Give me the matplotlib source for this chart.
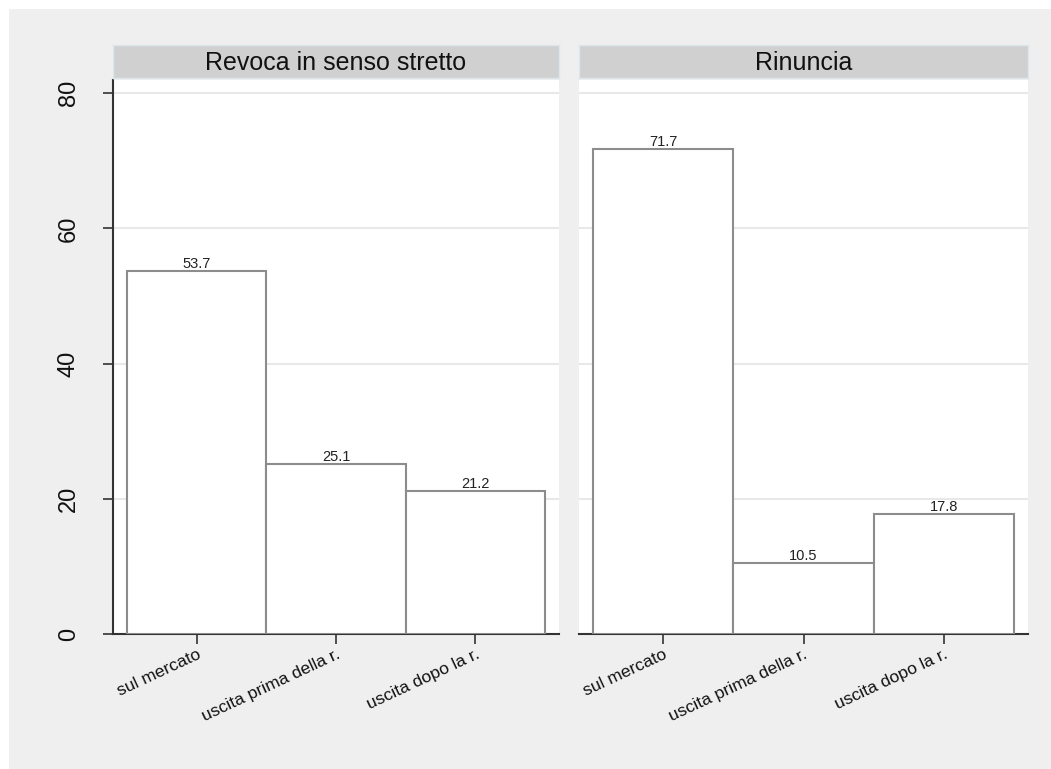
import matplotlib.pyplot as plt
from matplotlib.patches import Rectangle

plt.rcParams['font.family'] = ['Liberation Sans', 'DejaVu Sans']

categories = ['sul mercato', 'uscita prima della r.', 'uscita dopo la r.']
panels = ['Revoca in senso stretto', 'Rinuncia']
revoca = [53.7, 25.1, 21.2]
rinuncia = [71.7, 10.5, 17.8]
values = [revoca, rinuncia]
yticks = [0, 20, 40, 60, 80]

W, H = 1051, 769
fig = plt.figure(figsize=(W / 100, H / 100), dpi=100, facecolor='#efefef')
# thin white strip on the left and top, like the original export
fig.patches.append(Rectangle((0, 0), 9 / W, 1, transform=fig.transFigure,
                             facecolor='white', edgecolor='none', zorder=-10))
fig.patches.append(Rectangle((0, 1 - 9 / H), 1, 9 / H, transform=fig.transFigure,
                             facecolor='white', edgecolor='none', zorder=-10))

panel_x = [(113, 559), (579, 1028)]
y_bot, y_top = 634, 80
hdr_top, hdr_bot = 45, 78

for i, (x0, x1) in enumerate(panel_x):
    ax = fig.add_axes([x0 / W, 1 - y_bot / H, (x1 - x0) / W, (y_bot - y_top) / H])
    ax.set_facecolor('white')
    pos = range(len(categories))
    bars = ax.bar(pos, values[i], width=1.0, color='white', edgecolor='#8c8c8c',
                  linewidth=1.5, zorder=3)
    for b, v in zip(bars, values[i]):
        ax.text(b.get_x() + b.get_width() / 2, v, f'{v:.1f}', ha='center',
                va='bottom', fontsize=10.5, color='#222222', zorder=4)
    ax.set_xlim(-0.6, 2.6)
    ax.set_ylim(0, 81.95)
    ax.set_yticks(yticks)
    for t in yticks[1:]:
        ax.axhline(t, color='#e8e8e8', linewidth=1.5, zorder=1)
    ax.set_xticks(list(pos))
    ax.set_xticklabels(categories, rotation=25, ha='right', rotation_mode='anchor',
                       fontsize=12.6, color='#111111')
    ax.tick_params(axis='x', length=7, width=1.2, color='#333333', pad=2)
    for s in ['top', 'right']:
        ax.spines[s].set_visible(False)
    ax.spines['bottom'].set_color('#333333')
    ax.spines['bottom'].set_linewidth(1.5)
    if i == 0:
        ax.spines['left'].set_color('#333333')
        ax.spines['left'].set_linewidth(1.5)
        ax.set_yticklabels([str(t) for t in yticks], rotation=90, va='center',
                           fontsize=17, color='#111111')
        ax.tick_params(axis='y', length=7, width=1.2, color='#333333', pad=17)
    else:
        ax.spines['left'].set_visible(False)
        ax.tick_params(axis='y', length=0, labelleft=False)

    # panel header strip
    hax = fig.add_axes([x0 / W, 1 - hdr_bot / H, (x1 - x0) / W, (hdr_bot - hdr_top) / H])
    hax.set_facecolor('#d0d0d0')
    hax.set_xticks([])
    hax.set_yticks([])
    for s in hax.spines.values():
        s.set_color('#dde6ea')
        s.set_linewidth(1)
    hax.text(0.5, 0.45, panels[i], ha='center', va='center', fontsize=18,
             color='#111111', transform=hax.transAxes)

fig.savefig('out.png', dpi=100, facecolor=fig.get_facecolor())
